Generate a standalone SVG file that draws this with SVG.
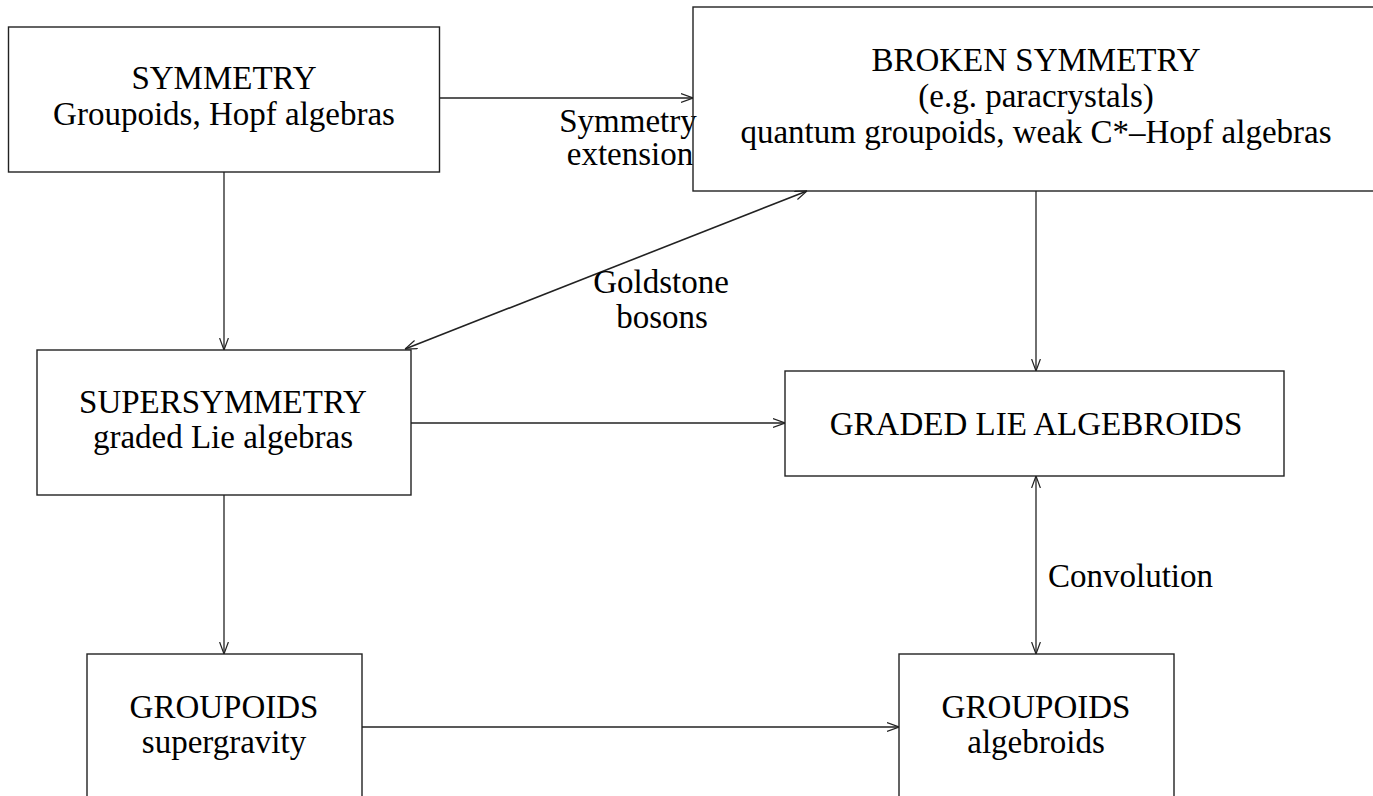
<svg xmlns="http://www.w3.org/2000/svg" width="1373" height="796" viewBox="0 0 1373 796">
<style>
.box{fill:#fff;stroke:#222;stroke-width:1.4}
.t{font-family:"Liberation Serif","Times New Roman",serif;font-size:33px;fill:#000;text-anchor:middle}
.e{fill:none;stroke:#222;stroke-width:1.3}
</style>
<defs>
<marker id="ah" viewBox="0 0 12 10" refX="12" refY="5" markerWidth="12" markerHeight="10" orient="auto-start-reverse" markerUnits="userSpaceOnUse">
<path d="M0,0.6 L12,5 L0,9.4" fill="none" stroke="#222" stroke-width="1.2"/>
</marker>
</defs>
<rect width="1373" height="796" fill="#fff"/>
<g id="connectors">
<line class="e" x1="439" y1="98" x2="693" y2="98" marker-end="url(#ah)"/>
<line class="e" x1="224" y1="172" x2="224" y2="350" marker-end="url(#ah)"/>
<line class="e" x1="1036" y1="191" x2="1036" y2="371" marker-end="url(#ah)"/>
<line class="e" x1="807" y1="191" x2="405" y2="349" marker-start="url(#ah)" marker-end="url(#ah)" style="stroke-width:1.6"/>
<line class="e" x1="411" y1="423" x2="785" y2="423" marker-end="url(#ah)"/>
<line class="e" x1="1036" y1="476" x2="1036" y2="654" marker-start="url(#ah)" marker-end="url(#ah)"/>
<line class="e" x1="224" y1="495" x2="224" y2="654" marker-end="url(#ah)"/>
<line class="e" x1="362" y1="727" x2="899" y2="727" marker-end="url(#ah)"/>
<text class="t" x="628" y="132">Symmetry</text>
<text class="t" x="630" y="165">extension</text>
<text class="t" x="661" y="293">Goldstone</text>
<text class="t" x="662" y="328">bosons</text>
<text class="t" x="1048" y="587" style="text-anchor:start">Convolution</text>
</g>
<g id="symmetry">
<rect class="box" x="8.5" y="27" width="431" height="145"/>
<text class="t" x="224" y="89">SYMMETRY</text>
<text class="t" x="224" y="125">Groupoids, Hopf algebras</text>
</g>
<g id="broken-symmetry">
<rect class="box" x="693" y="7" width="720" height="184" style="fill:none"/>
<text class="t" x="1036" y="71">BROKEN SYMMETRY</text>
<text class="t" x="1036" y="107">(e.g. paracrystals)</text>
<text class="t" x="1036" y="143">quantum groupoids, weak C*–Hopf algebras</text>
</g>
<g id="supersymmetry">
<rect class="box" x="37" y="350" width="374" height="145"/>
<text class="t" x="223" y="413">SUPERSYMMETRY</text>
<text class="t" x="223" y="448">graded Lie algebras</text>
</g>
<g id="graded-lie-algebroids">
<rect class="box" x="785" y="371" width="499" height="105"/>
<text class="t" x="1036" y="435">GRADED LIE ALGEBROIDS</text>
</g>
<g id="groupoids-supergravity">
<rect class="box" x="87" y="654" width="275" height="180"/>
<text class="t" x="224" y="718">GROUPOIDS</text>
<text class="t" x="224" y="753">supergravity</text>
</g>
<g id="groupoids-algebroids">
<rect class="box" x="899" y="654" width="275" height="180"/>
<text class="t" x="1036" y="718">GROUPOIDS</text>
<text class="t" x="1036" y="753">algebroids</text>
</g>
</svg>
